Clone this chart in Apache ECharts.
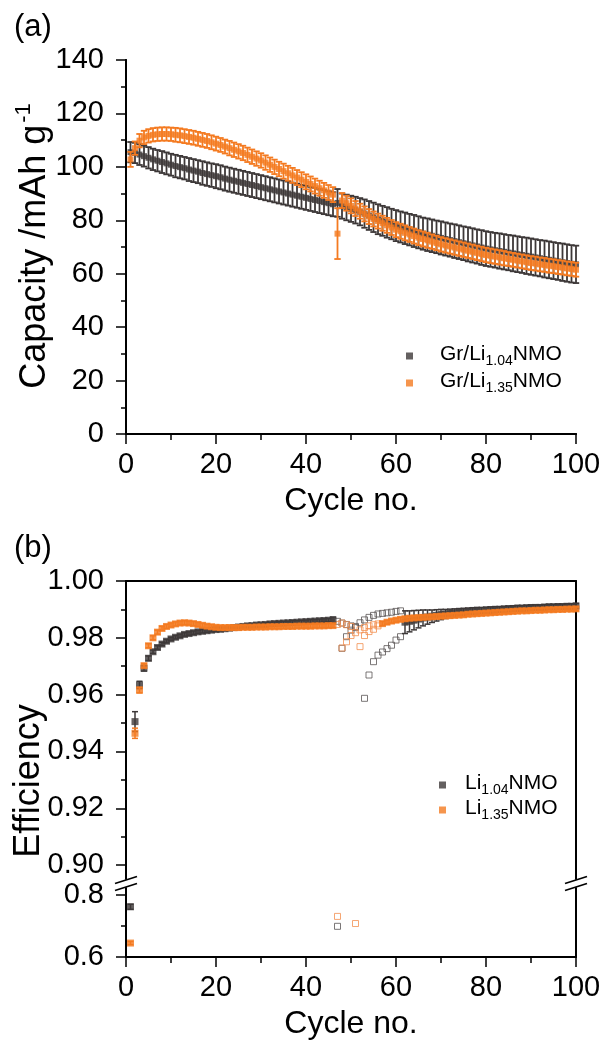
<!DOCTYPE html>
<html><head><meta charset="utf-8">
<script src="https://cdn.jsdelivr.net/npm/echarts@6/dist/echarts.min.js"></script>
<style>html,body{margin:0;padding:0;background:#fff}#c{width:605px;height:1044px}</style>
</head><body><div id="c"></div><script>
const cycles = [1,2,3,4,5,6,7,8,9,10,11,12,13,14,15,16,17,18,19,20,21,22,23,24,25,26,27,28,29,30,31,32,33,34,35,36,37,38,39,40,41,42,43,44,45,46,47,48,49,50,51,52,53,54,55,56,57,58,59,60,61,62,63,64,65,66,67,68,69,70,71,72,73,74,75,76,77,78,79,80,81,82,83,84,85,86,87,88,89,90,91,92,93,94,95,96,97,98,99,100];

// (a) capacity, mAh g-1
const capDarkMean = [105.5,105.2,104.6,104.0,103.4,102.8,102.3,101.8,101.3,100.8,100.3,99.9,99.5,99.0,98.6,98.2,97.7,97.3,96.9,96.5,96.1,95.6,95.2,94.8,94.4,94.0,93.6,93.2,92.8,92.4,92.0,91.6,91.2,90.8,90.4,90.0,89.6,89.2,88.8,88.4,88.0,87.6,87.2,86.8,86.4,86.0,86.5,85.3,84.8,84.3,83.8,83.2,82.5,81.8,81.1,80.4,79.8,79.2,78.6,78.0,77.5,77.0,76.5,76.0,75.5,75.0,74.6,74.2,73.8,73.4,73.0,72.6,72.2,71.8,71.4,71.0,70.6,70.2,69.8,69.4,69.1,68.8,68.5,68.2,67.9,67.6,67.3,67.0,66.7,66.4,66.1,65.8,65.5,65.2,64.9,64.6,64.3,64.0,63.7,63.5];
const capDarkErr = [3.8,3.8,3.9,3.9,4.0,4.0,4.0,4.1,4.1,4.1,4.2,4.2,4.2,4.3,4.3,4.3,4.4,4.4,4.4,4.5,4.5,4.5,4.5,4.5,4.5,4.5,4.5,4.5,4.5,4.5,4.5,4.5,4.5,4.5,4.5,4.5,4.5,4.5,4.5,4.5,4.5,4.5,4.5,4.5,4.5,4.5,5.2,4.7,4.8,4.9,5.0,5.1,5.3,5.4,5.5,5.6,5.6,5.7,5.7,5.8,5.8,5.9,5.9,6.0,6.0,6.0,6.1,6.1,6.1,6.2,6.2,6.2,6.3,6.3,6.3,6.4,6.4,6.4,6.5,6.5,6.5,6.5,6.6,6.6,6.6,6.7,6.7,6.7,6.8,6.8,6.8,6.8,6.9,6.9,6.9,6.9,7.0,7.0,7.0,7.0];
const capOrgMean = [102.8,107.0,109.8,111.0,111.6,112.0,112.2,112.3,112.3,112.2,112.0,111.8,111.5,111.2,110.9,110.5,110.1,109.7,109.2,108.7,108.2,107.6,107.0,106.4,105.8,105.2,104.5,103.8,103.1,102.4,101.6,100.8,100.0,99.2,98.4,97.6,96.8,96.0,95.2,94.4,93.6,92.8,92.0,91.2,90.4,89.6,75.0,87.4,86.4,85.4,84.4,83.4,82.4,81.4,80.5,79.7,78.9,78.1,77.3,76.5,75.9,75.3,74.7,74.1,73.5,73.0,72.5,72.0,71.5,71.0,70.6,70.2,69.8,69.4,69.0,68.6,68.2,67.8,67.4,67.0,66.7,66.4,66.1,65.8,65.5,65.2,64.9,64.6,64.3,64.0,63.8,63.5,63.3,63.0,62.8,62.5,62.3,62.0,61.8,61.5];
const capOrgErr = [2.8,2.5,2.5,2.5,2.5,2.5,2.5,2.5,2.5,2.5,2.6,2.6,2.6,2.6,2.6,2.6,2.6,2.6,2.6,2.6,2.6,2.6,2.7,2.7,2.7,2.7,2.7,2.7,2.7,2.7,2.7,2.7,2.7,2.7,2.8,2.8,2.8,2.8,2.8,2.8,2.8,2.8,2.8,2.8,2.8,2.8,9.5,2.8,2.8,2.8,2.8,2.8,2.8,2.8,2.8,2.8,2.8,2.8,2.8,2.8,2.8,2.8,2.8,2.8,2.8,2.8,2.8,2.7,2.7,2.7,2.7,2.7,2.7,2.7,2.7,2.7,2.7,2.7,2.7,2.7,2.7,2.7,2.7,2.7,2.6,2.6,2.6,2.6,2.6,2.6,2.6,2.6,2.6,2.6,2.6,2.6,2.6,2.6,2.6,2.6];

// (b) efficiency, upper segment (null = not plotted as average)
const effDarkMean = [null,0.9505,0.9634,0.9693,0.9728,0.9751,0.9766,0.9778,0.9788,0.9796,0.9802,0.9807,0.9812,0.9815,0.9818,0.9821,0.9823,0.9825,0.9827,0.9829,0.9830,0.9832,0.9834,0.9836,0.9838,0.9840,0.9842,0.9843,0.9845,0.9846,0.9847,0.9849,0.9850,0.9851,0.9852,0.9853,0.9854,0.9855,0.9856,0.9857,0.9858,0.9859,0.9860,0.9861,0.9862,0.9863,
 null,null,null,null,null,null,null,null,null,null,null,null,null,null,null,
 0.9855,0.9858,0.9862,0.9866,0.9870,0.9873,0.9876,0.9879,0.9882,0.9884,0.9886,0.9888,0.9890,0.9891,0.9893,0.9894,0.9895,0.9896,0.9897,0.9898,0.9899,0.9900,0.9901,0.9902,0.9903,0.9904,0.9904,0.9905,0.9906,0.9907,0.9907,0.9908,0.9909,0.9909,0.9910,0.9910,0.9911,0.9911,0.9912];
const effDarkErr = [null,0.0035,0.0013,0.0010,0.0008,0.0006,0.0006,0.0006,0.0006,0.0006,0.0006,0.0006,0.0006,0.0006,0.0006,0.0006,0.0006,0.0006,0.0006,0.0006,0.0006,0.0006,0.0006,0.0006,0.0006,0.0006,0.0006,0.0006,0.0006,0.0006,0.0006,0.0006,0.0006,0.0006,0.0006,0.0006,0.0006,0.0006,0.0006,0.0006,0.0006,0.0006,0.0006,0.0006,0.0006,0.0010,
 null,null,null,null,null,null,null,null,null,null,null,null,null,null,null,
 0.0040,0.0037,0.0034,0.0031,0.0028,0.0025,0.0022,0.0020,0.0018,0.0016,0.0015,0.0014,0.0013,0.0013,0.0012,0.0012,0.0012,0.0011,0.0011,0.0011,0.0011,0.0010,0.0010,0.0010,0.0010,0.0010,0.0010,0.0010,0.0010,0.0009,0.0009,0.0009,0.0009,0.0009,0.0009,0.0009,0.0009,0.0009,0.0009];
const effOrgMean = [null,0.9464,0.9616,0.9702,0.9772,0.9800,0.9820,0.9833,0.9840,0.9845,0.9849,0.9852,0.9853,0.9852,0.9850,0.9847,0.9844,0.9841,0.9839,0.9837,0.9836,0.9836,0.9836,0.9836,0.9836,0.9837,0.9837,0.9837,0.9838,0.9838,0.9838,0.9839,0.9839,0.9839,0.9840,0.9840,0.9840,0.9841,0.9841,0.9841,0.9841,0.9842,0.9842,0.9842,0.9843,0.9843,
 null,null,null,null,null,null,null,null,null,null,
 0.9850,0.9855,0.9859,0.9862,0.9865,0.9867,0.9869,0.9870,0.9871,0.9872,0.9873,0.9874,0.9875,0.9876,0.9877,0.9878,0.9879,0.9880,0.9881,0.9883,0.9884,0.9885,0.9886,0.9887,0.9888,0.9889,0.9890,0.9891,0.9892,0.9893,0.9894,0.9895,0.9895,0.9896,0.9897,0.9897,0.9898,0.9899,0.9899,0.9900,0.9900,0.9901,0.9901,0.9902];
const effOrgErr = [null,0.0018,0.0010,0.0007,0.0007,0.0007,0.0007,0.0007,0.0007,0.0007,0.0007,0.0007,0.0007,0.0007,0.0007,0.0007,0.0007,0.0007,0.0007,0.0007,0.0007,0.0007,0.0007,0.0007,0.0007,0.0007,0.0007,0.0007,0.0007,0.0007,0.0007,0.0007,0.0007,0.0007,0.0007,0.0007,0.0007,0.0007,0.0007,0.0007,0.0007,0.0007,0.0007,0.0007,0.0007,0.0007,
 null,null,null,null,null,null,null,null,null,null,
 0.0007,0.0007,0.0007,0.0007,0.0007,0.0007,0.0007,0.0007,0.0007,0.0007,0.0007,0.0007,0.0007,0.0007,0.0007,0.0007,0.0007,0.0007,0.0007,0.0007,0.0007,0.0007,0.0007,0.0007,0.0007,0.0007,0.0007,0.0007,0.0007,0.0007,0.0007,0.0007,0.0007,0.0007,0.0007,0.0007,0.0007,0.0007,0.0007,0.0007,0.0007,0.0007,0.0007,0.0007];

// individual cells (open squares) [cycle, efficiency]
const darkCellA = [[48,0.9763],[49,0.9804],[50,0.9827],[51,0.9840],[52,0.9853],[53,0.9863],[54,0.9872],[55,0.9879],[56,0.9884],[57,0.9886],[58,0.9888],[59,0.9890],[60,0.9893],[61,0.9895]];
const darkCellB = [[47,0.9858],[48,0.9852],[49,0.9847],[50,0.9842],[51,0.9836],[53,0.9587],[54,0.9669],[55,0.9716],[56,0.9739],[57,0.9750],[58,0.9762],[59,0.9774],[60,0.9792],[61,0.9804]];
const orgCellC = [[48,0.9764],[49,0.9786],[50,0.9808],[51,0.9818],[52,0.9828],[53,0.9836],[54,0.9842],[55,0.9846],[56,0.9849]];
const orgCellD = [[47,0.9847],[48,0.9852],[49,0.9846],[50,0.9840],[52,0.9769],[53,0.9808],[54,0.9822],[55,0.9830],[56,0.9842]];
// lower segment (0.6 - 0.82)
const lowDarkFilled = [[1,0.762,0.008]];
const lowOrgFilled = [[1,0.645,0.005]];
const lowDarkOpen = [[47,0.699]];
const lowOrgOpen = [[47,0.731],[51,0.708]];

const capTicks = [0,20,40,60,80,100,120,140];
const effTicks = [0.90,0.92,0.94,0.96,0.98,1.00];
const effMinor = [0.91,0.93,0.95,0.97,0.99];
const lowTicks = [0.6,0.8];
const lowMinor = [0.7];

const DARK = '#3d3838', ORG = '#f47a20', DARK_OPEN = '#5a5555', ORG_OPEN = '#f29050';
const FONT = '"Liberation Sans", Arial, sans-serif';

function errRender(color, hw, lw) {
  return function (params, api) {
    const x = api.value(0), lo = api.value(1), hi = api.value(2);
    const a = api.coord([x, lo]), b = api.coord([x, hi]);
    const st = { stroke: color, lineWidth: lw, fill: null };
    return { type: 'group', children: [
      { type: 'line', shape: { x1: a[0], y1: a[1], x2: b[0], y2: b[1] }, style: st },
      { type: 'line', shape: { x1: a[0] - hw, y1: b[1], x2: a[0] + hw, y2: b[1] }, style: st },
      { type: 'line', shape: { x1: a[0] - hw, y1: a[1], x2: a[0] + hw, y2: a[1] }, style: st }
    ]};
  };
}
function errData(mean, err) {
  const out = [];
  cycles.forEach((c, i) => { if (mean[i] != null) out.push([c, mean[i] - err[i], mean[i] + err[i]]); });
  return out;
}
function ptData(mean) {
  const out = [];
  cycles.forEach((c, i) => { if (mean[i] != null) out.push([c, mean[i]]); });
  return out;
}

const axLine = { show: true, lineStyle: { color: '#000', width: 2 } };
const lbl = { color: '#000', fontSize: 29, fontFamily: FONT };
function xMain(gi) {
  return { type: 'value', gridIndex: gi, min: 0, max: 100, interval: 20, position: 'bottom',
    axisLine: axLine, axisTick: { show: true, length: 10, lineStyle: { color: '#000', width: 1.5 } },
    minorTick: { show: true, splitNumber: 2, length: 6, lineStyle: { color: '#000', width: 1.5 } },
    splitLine: { show: false }, minorSplitLine: { show: false },
    axisLabel: Object.assign({ margin: 16 }, lbl),
    name: 'Cycle no.', nameLocation: 'middle', nameGap: 51,
    nameTextStyle: { color: '#000', fontSize: 32, fontFamily: FONT } };
}
function plainAxis(type, gi, pos, min, max) {
  return { type: 'value', gridIndex: gi, position: pos, min: min, max: max,
    axisLine: axLine, axisTick: { show: false }, axisLabel: { show: false }, splitLine: { show: false } };
}
function customTickAxis(gi, min, max, ticks, len, showLine, showLabel, dec) {
  return { type: 'value', gridIndex: gi, position: 'left', min: min, max: max,
    axisLine: showLine ? axLine : { show: false },
    axisTick: { show: true, length: len, customValues: ticks, lineStyle: { color: '#000', width: 1.5 } },
    axisLabel: showLabel ? Object.assign({ margin: 22, customValues: ticks, formatter: v => v.toFixed(dec) }, lbl) : { show: false },
    splitLine: { show: false } };
}

const EFF_MIN = 0.8951, EFF_MAX = 1.0, LOW_MIN = 0.6, LOW_MAX = 0.8226;

function legendFmt(name) {
  const m = name.match(/^(.*Li)(1\.\d\d)(NMO)$/);
  return '{g|}{a|' + m[1] + '}{s|' + m[2] + '}{a|' + m[3] + '}';
}
const legRich = {
  a: { fontSize: 21, fontFamily: FONT, color: '#000', verticalAlign: 'bottom', lineHeight: 24, padding: [0, 0, 3, 0] },
  s: { fontSize: 14, fontFamily: FONT, color: '#000', verticalAlign: 'bottom', lineHeight: 15 }
};

const chart = echarts.init(document.getElementById('c'), null, { renderer: 'canvas' });
const option = {
  animation: false,
  backgroundColor: '#fff',
  grid: [
    { left: 126, top: 60, width: 450, height: 374 },
    { left: 126, top: 581, width: 450, height: 298 },
    { left: 126, top: 888, width: 450, height: 69 }
  ],
  xAxis: [
    xMain(0),
    plainAxis('value', 0, 'top', 0, 100),
    plainAxis('value', 1, 'top', 0, 100),
    xMain(2)
  ],
  yAxis: [
    { type: 'value', gridIndex: 0, position: 'left', min: 0, max: 140, interval: 20,
      axisLine: axLine, axisTick: { show: true, length: 10, lineStyle: { color: '#000', width: 1.5 } },
      minorTick: { show: true, splitNumber: 2, length: 5, lineStyle: { color: '#000', width: 1.5 } },
      splitLine: { show: false }, minorSplitLine: { show: false },
      axisLabel: Object.assign({ margin: 22 }, lbl) },
    plainAxis('value', 0, 'right', 0, 140),
    customTickAxis(1, EFF_MIN, EFF_MAX, effTicks, 10, true, true, 2),
    plainAxis('value', 1, 'right', EFF_MIN, EFF_MAX),
    customTickAxis(1, EFF_MIN, EFF_MAX, effMinor, 5, false, false, 2),
    customTickAxis(2, LOW_MIN, LOW_MAX, lowTicks, 10, true, true, 1),
    plainAxis('value', 2, 'right', LOW_MIN, LOW_MAX),
    customTickAxis(2, LOW_MIN, LOW_MAX, lowMinor, 5, false, false, 1)
  ],
  legend: [
    { data: ['Gr/Li1.04NMO', 'Gr/Li1.35NMO'], orient: 'vertical', left: 401, top: 339,
      icon: 'rect', itemWidth: 7, itemHeight: 7, itemGap: 3, selectedMode: false,
      formatter: legendFmt, textStyle: { rich: Object.assign({}, legRich, { g: { width: 22 } }) } },
    { data: ['Li1.04NMO', 'Li1.35NMO'], orient: 'vertical', left: 434, top: 768,
      icon: 'rect', itemWidth: 7, itemHeight: 7, itemGap: 1, selectedMode: false,
      formatter: legendFmt, textStyle: { rich: Object.assign({}, legRich, { g: { width: 14 } }) } }
  ],
  series: [
    // (a)
    { type: 'custom', name: 'capDarkErr', xAxisIndex: 0, yAxisIndex: 0, renderItem: errRender(DARK, 3.2, 1.8), data: errData(capDarkMean, capDarkErr), z: 2 },
    { type: 'scatter', name: 'Gr/Li1.04NMO', xAxisIndex: 0, yAxisIndex: 0, symbol: 'rect', symbolSize: 6, itemStyle: { color: DARK }, data: ptData(capDarkMean), z: 3 },
    { type: 'custom', name: 'capOrgErr', xAxisIndex: 0, yAxisIndex: 0, renderItem: errRender(ORG, 3.2, 1.8), data: errData(capOrgMean, capOrgErr), z: 4 },
    { type: 'scatter', name: 'Gr/Li1.35NMO', xAxisIndex: 0, yAxisIndex: 0, symbol: 'rect', symbolSize: 6, itemStyle: { color: ORG }, data: ptData(capOrgMean), z: 5 },
    // (b) upper
    { type: 'scatter', name: 'darkCellA', xAxisIndex: 2, yAxisIndex: 2, symbol: 'rect', symbolSize: 6, itemStyle: { color: 'rgba(0,0,0,0)', borderColor: DARK_OPEN, borderWidth: 1 }, data: darkCellA, z: 2 },
    { type: 'scatter', name: 'darkCellB', xAxisIndex: 2, yAxisIndex: 2, symbol: 'rect', symbolSize: 6, itemStyle: { color: 'rgba(0,0,0,0)', borderColor: DARK_OPEN, borderWidth: 1 }, data: darkCellB, z: 2 },
    { type: 'scatter', name: 'orgCellC', xAxisIndex: 2, yAxisIndex: 2, symbol: 'rect', symbolSize: 6, itemStyle: { color: 'rgba(0,0,0,0)', borderColor: ORG_OPEN, borderWidth: 1 }, data: orgCellC, z: 2 },
    { type: 'scatter', name: 'orgCellD', xAxisIndex: 2, yAxisIndex: 2, symbol: 'rect', symbolSize: 6, itemStyle: { color: 'rgba(0,0,0,0)', borderColor: ORG_OPEN, borderWidth: 1 }, data: orgCellD, z: 2 },
    { type: 'custom', name: 'effDarkErr', xAxisIndex: 2, yAxisIndex: 2, renderItem: errRender(DARK, 3, 1.5), data: errData(effDarkMean, effDarkErr), z: 3 },
    { type: 'scatter', name: 'Li1.04NMO', xAxisIndex: 2, yAxisIndex: 2, symbol: 'rect', symbolSize: 7, itemStyle: { color: DARK }, data: ptData(effDarkMean), z: 4 },
    { type: 'custom', name: 'effOrgErr', xAxisIndex: 2, yAxisIndex: 2, renderItem: errRender(ORG, 3, 1.5), data: errData(effOrgMean, effOrgErr), z: 5 },
    { type: 'scatter', name: 'Li1.35NMO', xAxisIndex: 2, yAxisIndex: 2, symbol: 'rect', symbolSize: 7, itemStyle: { color: ORG }, data: ptData(effOrgMean), z: 6 },
    // (b) lower
    { type: 'custom', name: 'lowDarkErr', xAxisIndex: 3, yAxisIndex: 5, renderItem: errRender(DARK, 3, 1.5), data: lowDarkFilled.map(d => [d[0], d[1] - d[2], d[1] + d[2]]), z: 3 },
    { type: 'scatter', name: 'lowDark', xAxisIndex: 3, yAxisIndex: 5, symbol: 'rect', symbolSize: 7, itemStyle: { color: DARK }, data: lowDarkFilled.map(d => [d[0], d[1]]), z: 4 },
    { type: 'custom', name: 'lowOrgErr', xAxisIndex: 3, yAxisIndex: 5, renderItem: errRender(ORG, 3, 1.5), data: lowOrgFilled.map(d => [d[0], d[1] - d[2], d[1] + d[2]]), z: 3 },
    { type: 'scatter', name: 'lowOrg', xAxisIndex: 3, yAxisIndex: 5, symbol: 'rect', symbolSize: 7, itemStyle: { color: ORG }, data: lowOrgFilled.map(d => [d[0], d[1]]), z: 4 },
    { type: 'scatter', name: 'lowDarkOpen', xAxisIndex: 3, yAxisIndex: 5, symbol: 'rect', symbolSize: 6, itemStyle: { color: 'rgba(0,0,0,0)', borderColor: DARK_OPEN, borderWidth: 1 }, data: lowDarkOpen, z: 2 },
    { type: 'scatter', name: 'lowOrgOpen', xAxisIndex: 3, yAxisIndex: 5, symbol: 'rect', symbolSize: 6, itemStyle: { color: 'rgba(0,0,0,0)', borderColor: ORG_OPEN, borderWidth: 1 }, data: lowOrgOpen, z: 2 }
  ]
};
chart.setOption(option);

// axis titles, panel letters and axis-break marks
const upBottom = chart.convertToPixel({ xAxisIndex: 2, yAxisIndex: 2 }, [0, EFF_MIN]);
const lowTop = chart.convertToPixel({ xAxisIndex: 3, yAxisIndex: 5 }, [100, LOW_MAX]);
const by = (upBottom[1] + lowTop[1]) / 2;
function breakMarks(cx) {
  const st = { stroke: '#000', lineWidth: 1.6 };
  return [-3.5, 3.5].map(off => ({ type: 'line', z: 100,
    shape: { x1: cx - 11, y1: by + off + 3.5, x2: cx + 11, y2: by + off - 3.5 }, style: st }));
}
const TITLE = 36;
chart.setOption({
  graphic: [
    { type: 'text', left: 14, top: 12, style: { text: '(a)', fontSize: 31, fontFamily: FONT, fill: '#000' } },
    { type: 'text', left: 14, top: 533, style: { text: '(b)', fontSize: 31, fontFamily: FONT, fill: '#000' } },
    { type: 'text', x: 33, y: 246, rotation: Math.PI / 2,
      style: { text: '{a|Capacity /mAh g}{p|-1}', align: 'center', verticalAlign: 'middle',
        rich: { a: { fontSize: TITLE, fontFamily: FONT, fill: '#000', verticalAlign: 'bottom', lineHeight: 40 },
                p: { fontSize: 22, fontFamily: FONT, fill: '#000', verticalAlign: 'top', lineHeight: 40, padding: [0,0,0,2] } } } },
    { type: 'text', x: 29, y: 781, rotation: Math.PI / 2,
      style: { text: 'Efficiency', align: 'center', verticalAlign: 'middle', fontSize: TITLE, fontFamily: FONT, fill: '#000' } }
  ].concat(breakMarks(upBottom[0]), breakMarks(lowTop[0]))
});
</script></body></html>
